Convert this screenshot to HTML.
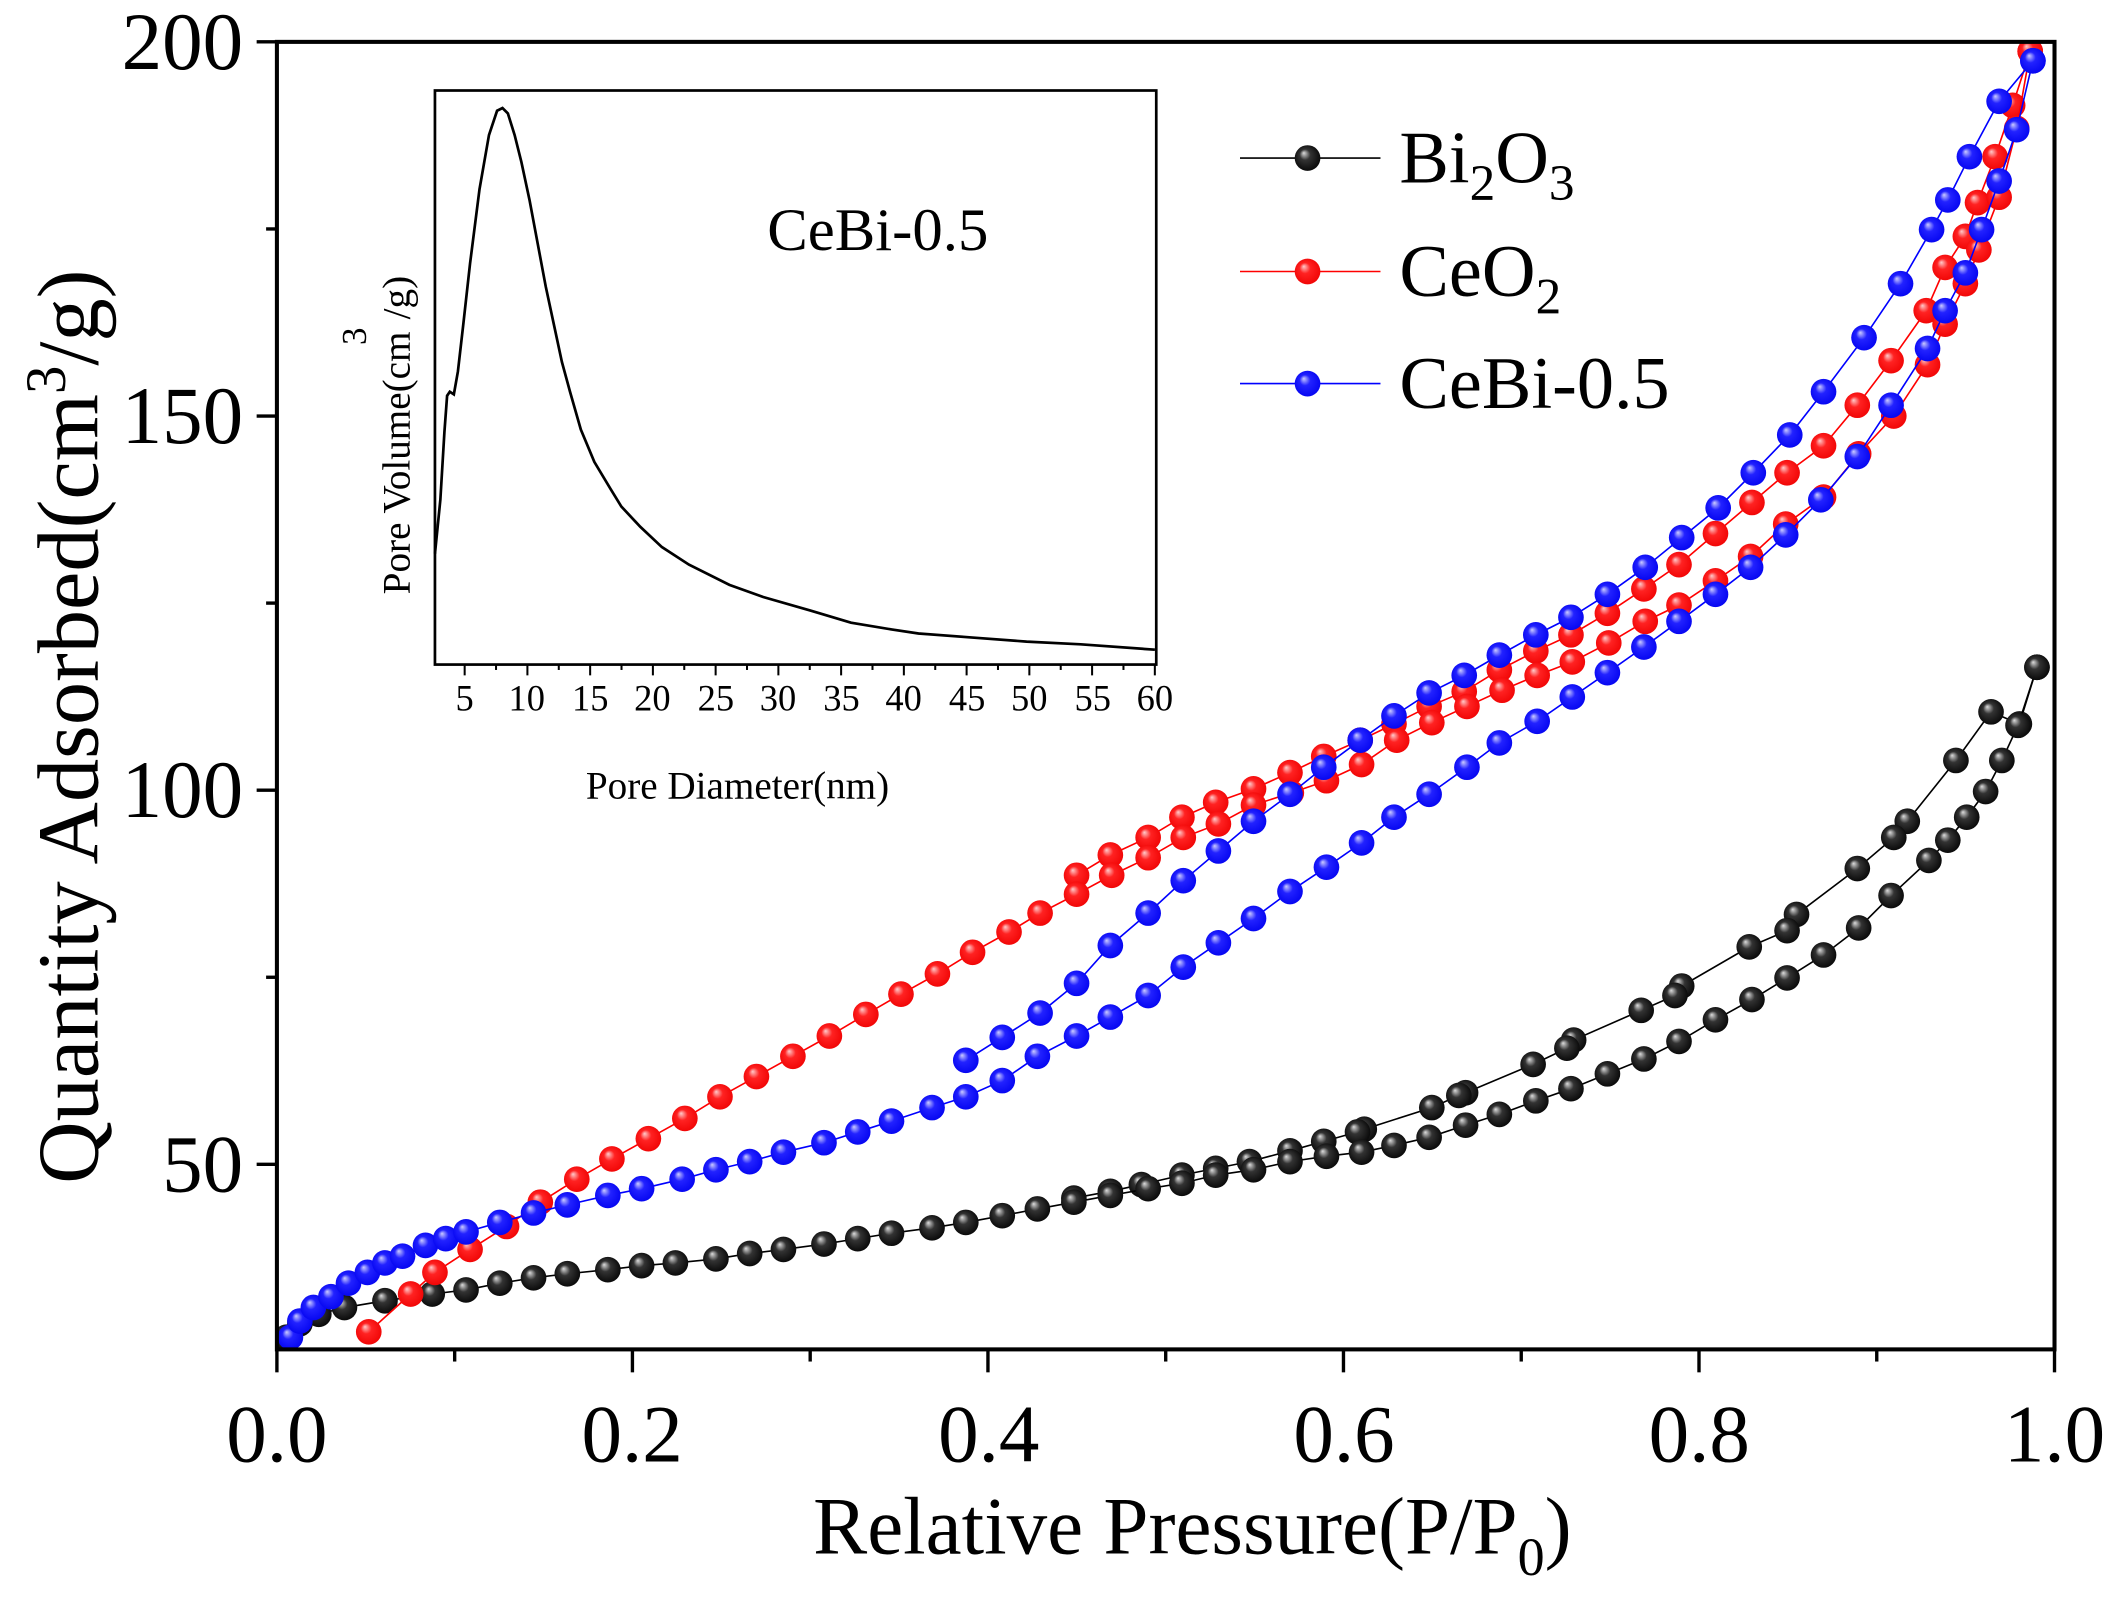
<!DOCTYPE html>
<html><head><meta charset="utf-8"><style>
html,body{margin:0;padding:0;background:#fff;}
svg{display:block;font-family:"Liberation Serif",serif;}
</style></head><body>
<svg id="s" width="2118" height="1604" viewBox="0 0 1568 1187.5" preserveAspectRatio="none" xmlns="http://www.w3.org/2000/svg">
<defs>
<radialGradient id="gk" cx="0.5" cy="0.5" r="0.6" fx="0.35" fy="0.3"><stop offset="0" stop-color="#ddd"/><stop offset="0.35" stop-color="#333"/><stop offset="1" stop-color="#000"/></radialGradient>
<radialGradient id="gr" cx="0.5" cy="0.5" r="0.6" fx="0.35" fy="0.3"><stop offset="0" stop-color="#fcc"/><stop offset="0.35" stop-color="#f22"/><stop offset="1" stop-color="#e00"/></radialGradient>
<radialGradient id="gb" cx="0.5" cy="0.5" r="0.6" fx="0.35" fy="0.3"><stop offset="0" stop-color="#ccf"/><stop offset="0.35" stop-color="#22f"/><stop offset="1" stop-color="#00e"/></radialGradient>
<clipPath id="pc"><rect x="205" y="31" width="1316" height="968"/></clipPath>
</defs>
<g id="data" clip-path="url(#pc)"></g>
<rect x="205" y="31" width="1316" height="968" fill="none" stroke="#000" stroke-width="3"/>
<g stroke="#000" stroke-width="2.5" id="ticks"></g>
<g font-size="60" text-anchor="end">
<text x="180" y="51">200</text><text x="180" y="328">150</text><text x="180" y="605">100</text><text x="180" y="882">50</text>
</g>
<g font-size="60" text-anchor="middle">
<text x="205" y="1082">0.0</text><text x="468" y="1082">0.2</text><text x="732" y="1082">0.4</text><text x="995" y="1082">0.6</text><text x="1258" y="1082">0.8</text><text x="1521" y="1082">1.0</text>
</g>
<text x="602" y="1150" font-size="60">Relative Pressure(P/P<tspan font-size="40" dy="16">0</tspan><tspan dy="-16">)</tspan></text>
<text transform="translate(72,538) rotate(-90)" text-anchor="middle" font-size="64">Quantity Adsorbed(cm<tspan font-size="42" dy="-24">3</tspan><tspan dy="24">/g)</tspan></text>
<line x1="918" y1="117" x2="1022" y2="117" stroke="#000" stroke-width="1.2"/>
<line x1="918" y1="201" x2="1022" y2="201" stroke="#f00" stroke-width="1.2"/>
<line x1="918" y1="284" x2="1022" y2="284" stroke="#00f" stroke-width="1.2"/>
<circle cx="968" cy="117" r="9.5" fill="url(#gk)"/><circle cx="968" cy="201" r="9.5" fill="url(#gr)"/><circle cx="968" cy="284" r="9.5" fill="url(#gb)"/>
<g font-size="55">
<text x="1036" y="135">Bi<tspan font-size="38" dy="13">2</tspan><tspan dy="-13">O</tspan><tspan font-size="38" dy="13">3</tspan></text>
<text x="1036" y="219">CeO<tspan font-size="38" dy="13">2</tspan></text>
<text x="1036" y="302">CeBi-0.5</text>
</g>
<rect x="322" y="67" width="534" height="425" fill="#fff" stroke="#000" stroke-width="2"/>
<polyline fill="none" stroke="#000" stroke-width="2" points="322,410 326,370 329,320 331,293 333,290 336,292 339,275 343,240 348,195 355,140 362,100 368,82 372,80 376,84 381,100 386,120 392,148 398,180 404,212 410,240 416,268 422,290 430,318 440,342 452,362 460,375 474,390 490,405 510,418 540,433 565,442 600,452 630,461 660,466 680,469 720,472 760,475 800,477 855,481"/>
<g stroke="#000" stroke-width="1.5" id="iticks"></g>
<g font-size="27" text-anchor="middle">
<text x="344" y="526">5</text><text x="390" y="526">10</text><text x="437" y="526">15</text><text x="483" y="526">20</text><text x="530" y="526">25</text><text x="576" y="526">30</text><text x="623" y="526">35</text><text x="669" y="526">40</text><text x="716" y="526">45</text><text x="762" y="526">50</text><text x="809" y="526">55</text><text x="855" y="526">60</text>
</g>
<text x="546" y="591" font-size="29" text-anchor="middle">Pore Diameter(nm)</text>
<text transform="translate(303,440) rotate(-90)" font-size="29">Pore Volume(cm<tspan dy="-32" dx="-10" font-size="26">3</tspan><tspan dy="32" dx="6">/g)</tspan></text>
<text x="568" y="185" font-size="45">CeBi-0.5</text>
</svg>
<script>
var NS="http://www.w3.org/2000/svg",d=document.getElementById("data");
function ser(pts,col,g){
 var pl=document.createElementNS(NS,"polyline");
 pl.setAttribute("points",pts.map(function(p){return p.join(",")}).join(" "));
 pl.setAttribute("fill","none");pl.setAttribute("stroke",col);pl.setAttribute("stroke-width","1.2");d.appendChild(pl);
 pts.forEach(function(p){var c=document.createElementNS(NS,"circle");c.setAttribute("cx",p[0]);c.setAttribute("cy",p[1]);c.setAttribute("r","9.5");c.setAttribute("fill","url(#"+g+")");d.appendChild(c);});
}
var kA=[[212,990],[222,980],[236,973],[255,968],[285,963],[320,958],[345,955],[370,950],[395,946],[420,943],[450,940],[475,937],[500,935],[530,932],[555,928],[580,925],[610,921],[635,917],[660,913],[690,909],[715,905],[742,900],[768,895],[795,890],[822,885],[850,880],[875,876],[900,870],[928,866],[955,860],[982,856],[1008,853],[1032,848],[1058,842],[1085,833],[1110,825],[1137,815],[1163,806],[1190,795],[1217,784],[1243,771],[1270,755],[1297,740],[1323,724],[1350,707],[1376,687],[1400,663],[1428,637],[1442,622],[1456,605],[1470,586],[1482,563],[1494,537],[1508,494]];
var kD=[[1508,494],[1495,536],[1474,527],[1448,563],[1412,608],[1402,620],[1375,643],[1330,677],[1323,689],[1295,701],[1245,730],[1240,737],[1215,748],[1165,770],[1160,776],[1135,788],[1085,809],[1080,811],[1060,820],[1010,836],[1005,838],[980,845],[955,852],[925,860],[900,865],[875,870],[845,877],[822,882],[795,887]];
var rA=[[273,986],[304,958],[322,942],[348,925],[375,908],[400,890],[427,873],[453,858],[480,843],[507,828],[533,812],[560,797],[587,782],[614,767],[641,751],[667,736],[694,721],[720,705],[747,690],[770,676],[797,662],[823,648],[850,635],[876,620],[902,610],[928,596],[956,587],[982,578],[1008,566],[1034,548],[1060,535],[1086,523],[1112,511],[1138,500],[1164,490],[1191,476],[1218,460],[1243,448],[1270,430],[1296,412],[1322,388],[1350,368],[1376,336],[1402,308],[1427,270],[1440,240],[1455,210],[1465,185],[1480,146],[1493,95],[1503,38]];
var rD=[[1503,38],[1490,78],[1477,116],[1464,150],[1455,175],[1440,198],[1426,230],[1400,267],[1375,300],[1350,330],[1323,350],[1297,372],[1270,395],[1243,418],[1217,436],[1190,454],[1163,470],[1137,482],[1110,496],[1084,512],[1058,523],[1032,536],[1007,548],[980,560],[955,572],[928,584],[900,594],[875,605],[850,620],[822,633],[797,648]];
var bA=[[215,990],[222,978],[232,968],[245,960],[258,950],[272,942],[285,935],[298,930],[315,922],[330,917],[345,912],[370,905],[395,898],[420,892],[450,885],[475,880],[505,873],[530,866],[555,860],[580,853],[610,846],[635,838],[660,830],[690,820],[715,812],[742,800],[768,782],[797,767],[822,753],[850,737],[876,716],[902,698],[928,680],[955,660],[982,642],[1008,624],[1032,605],[1058,588],[1086,568],[1110,550],[1138,534],[1164,516],[1190,498],[1217,479],[1243,460],[1270,440],[1296,420],[1322,396],[1348,370],[1375,338],[1400,300],[1427,258],[1440,230],[1455,202],[1467,170],[1480,134],[1493,96],[1505,45]];
var bD=[[1505,45],[1480,75],[1458,116],[1442,148],[1430,170],[1407,210],[1380,250],[1350,290],[1325,322],[1298,350],[1272,376],[1245,398],[1218,420],[1190,440],[1163,457],[1137,470],[1110,485],[1084,500],[1058,513],[1032,530],[1007,548],[980,568],[955,588],[928,608],[902,630],[876,652],[850,676],[822,700],[797,728],[770,750],[742,768],[715,785]];
ser(kD,"#000","gk");ser(kA,"#000","gk");ser(rD,"#f00","gr");ser(rA,"#f00","gr");ser(bD,"#00f","gb");ser(bA,"#00f","gb");
function ln(g,x1,y1,x2,y2){var l=document.createElementNS(NS,"line");l.setAttribute("x1",x1);l.setAttribute("y1",y1);l.setAttribute("x2",x2);l.setAttribute("y2",y2);g.appendChild(l);}
var t=document.getElementById("ticks");
for(var i=0;i<=10;i++){var x=205+i*131.6;ln(t,x,999,x,i%2?1008:1016);}
for(var v=50;v<=200;v+=25){var y=862-(v-50)*5.54;ln(t,205,y,v%50?197:190,y);}
var it=document.getElementById("iticks");
for(var v=2.5;v<=60;v+=2.5){var x=344+(v-5)*9.29;if(x<322)continue;ln(it,x,492,x,v%5?496:500);}
</script>
</body></html>
